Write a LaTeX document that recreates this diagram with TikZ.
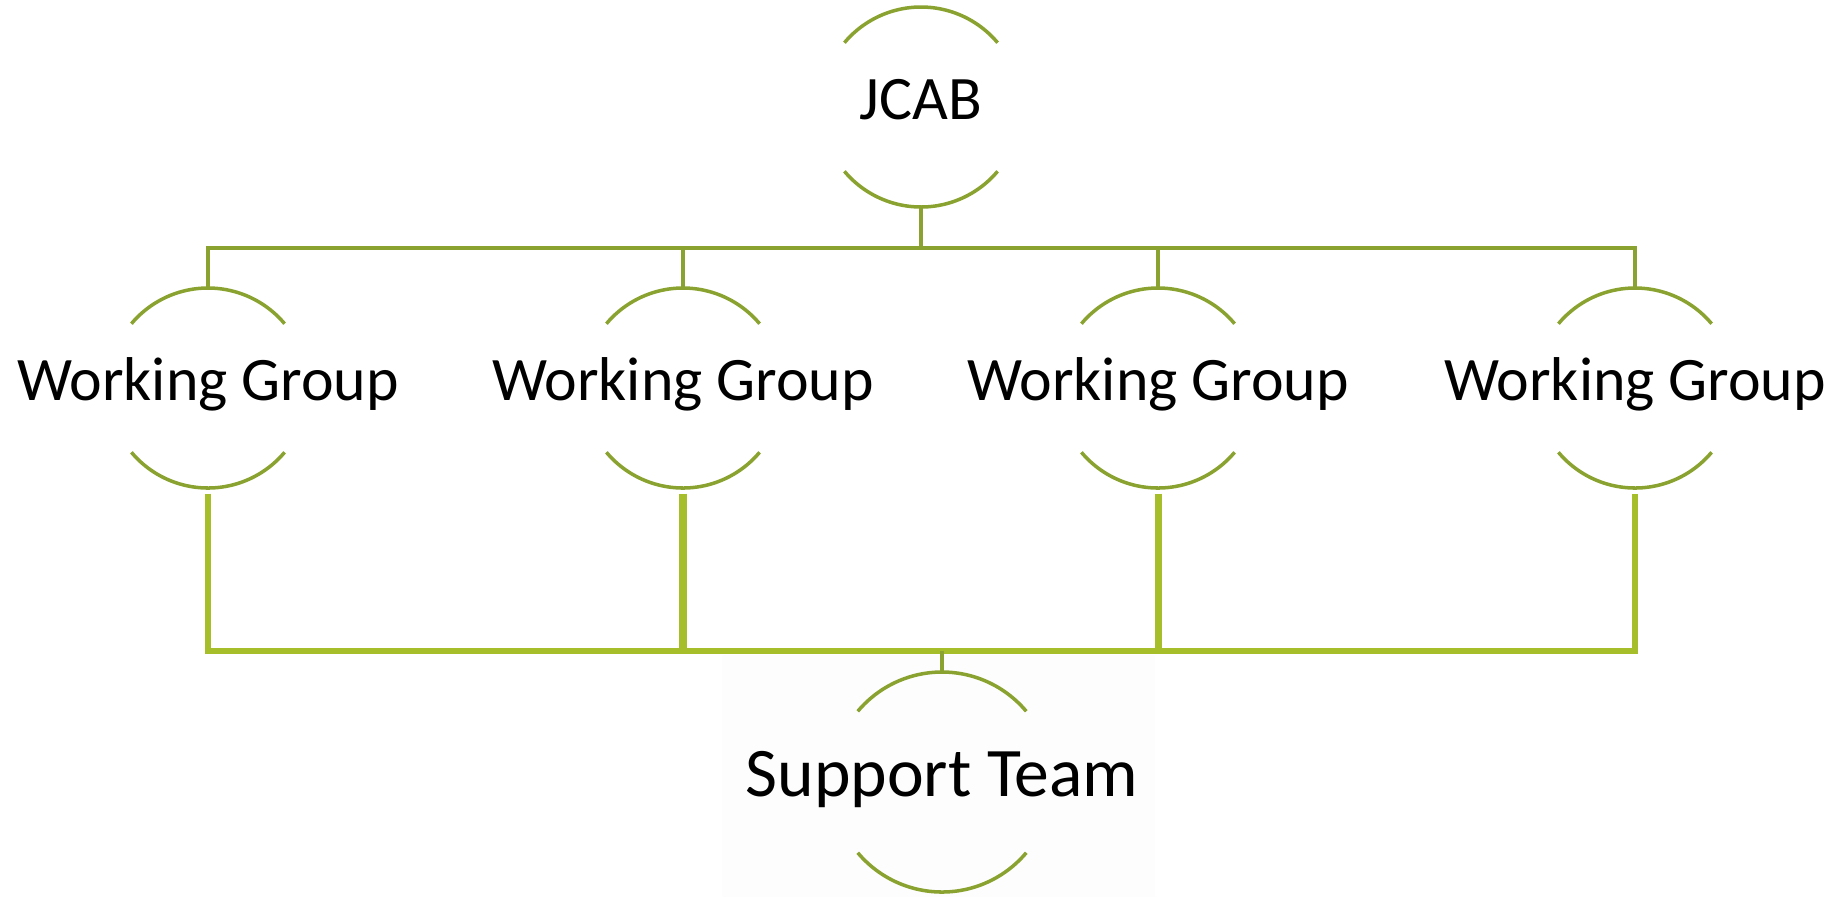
\documentclass[tikz,border=0pt]{standalone}
\usepackage{fontspec}
\setmainfont{Carlito}
\usetikzlibrary{positioning, calc}

\definecolor{arcgreen}{RGB}{138,163,48}
\definecolor{busgreen}{RGB}{166,190,42}

% a pair of arcs round a unit node
\newcommand{\arcpair}[2]{%
    \draw[arcline] ([shift={(40:#2)}]#1.center) arc[start angle=40, end angle=140, radius=#2];
    \draw[arcline] ([shift={(220:#2)}]#1.center) arc[start angle=220, end angle=320, radius=#2];
}

\begin{document}
\begin{tikzpicture}[
        % Stili globali
        unit/.style={rectangle, inner sep=0pt, minimum height=2cm,
            text height=0.9em, text depth=0.18em, font=\fontsize{17.6}{20}\selectfont},
        bigunit/.style={unit, minimum height=2.2cm, text height=1em,
            font=\fontsize{19.8}{22}\selectfont},
        arcline/.style={draw=arcgreen, line width=1pt},
        topline/.style={draw=arcgreen, line width=0.9pt},
        botline/.style={draw=busgreen, line width=1.7pt}
    ]
    \useasboundingbox (0,0) rectangle (18.34,-8.97);

    % sfondo tenue sotto il team di supporto
    \fill[black!0.6] (7.22,-6.55) rectangle (11.55,-8.97);

    \node[unit] (jcab) at (9.21,-1.07) {JCAB};
    \node[unit] (wg1) at (2.08,-3.88) {Working Group};
    \node[unit] (wg2) at (6.83,-3.88) {Working Group};
    \node[unit] (wg3) at (11.58,-3.88) {Working Group};
    \node[unit] (wg4) at (16.35,-3.88) {Working Group};
    \node[bigunit] (support) at (9.42,-7.82) {Support Team};

    \coordinate (topbus) at (0,-2.48);
    \coordinate (botbus) at (0,-6.51);

    \foreach \n in {jcab, wg1, wg2, wg3, wg4}
        \arcpair{\n}{1};
    \arcpair{support}{1.1}

    % collegamenti in alto
    \draw[topline] (jcab.south) -- (jcab.south |- topbus);
    \draw[topline] (wg1.north) |- (wg4.north |- topbus) -- (wg4.north);
    \draw[topline] (wg2.north) -- (wg2.north |- topbus);
    \draw[topline] (wg3.north) -- (wg3.north |- topbus);

    % collegamenti in basso
    \draw[botline, shorten <=0.05cm, shorten >=0.05cm] (wg1.south) |- (wg4.south |- botbus) -- (wg4.south);
    \draw[botline, line width=2pt, shorten <=0.05cm] (wg2.south) -- (wg2.south |- botbus);
    \draw[botline, line width=2pt, shorten <=0.05cm] (wg3.south) -- (wg3.south |- botbus);
    \draw[topline, line width=1.2pt] (support.north) -- (support.north |- botbus);
\end{tikzpicture}
\end{document}
